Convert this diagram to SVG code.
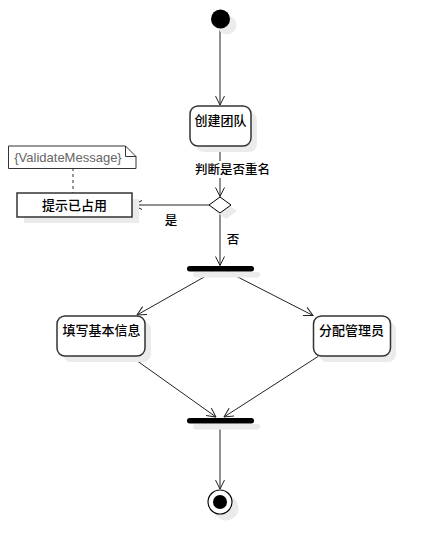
<svg xmlns="http://www.w3.org/2000/svg" width="428" height="555" viewBox="0 0 428 555">
<style>
.sh{fill:#ebebeb;stroke:none}
.act{fill:#fff;stroke:#333;stroke-width:1.5}
.cj{font-family:"Noto Sans CJK SC","Noto Sans",sans-serif;fill:#000;font-weight:500}
.box{font-size:13px;text-anchor:middle}
.lbl{font-size:12.5px}
.ln{fill:none;stroke:#222;stroke-width:1}
.bar{fill:#000}
</style>
<defs>
<marker id="arr" viewBox="0 0 10 10" refX="9.5" refY="5" markerWidth="10" markerHeight="10" markerUnits="userSpaceOnUse" orient="auto">
<path d="M0.5,0.5 L9.5,5 L0.5,9.5" fill="none" stroke="#222" stroke-width="1"/>
</marker>
</defs>
<rect width="428" height="555" fill="#fff"/>
<g id="connectors">
<line class="ln" x1="220" y1="29" x2="220" y2="105" marker-end="url(#arr)"/>
<line class="ln" x1="220" y1="146" x2="220" y2="196.5" marker-end="url(#arr)"/>
<rect x="194" y="161" width="76" height="17" fill="#fff"/>
<text class="cj lbl" x="232.5" y="173.5" text-anchor="middle">判断是否重名</text>
<line class="ln" x1="209" y1="205" x2="133" y2="205" marker-end="url(#arr)"/>
<text class="cj lbl" x="171" y="224.5" text-anchor="middle">是</text>
<line class="ln" x1="220" y1="213" x2="220" y2="265.5" marker-end="url(#arr)"/>
<text class="cj lbl" x="233" y="243.5" text-anchor="middle">否</text>
<line class="ln" x1="213" y1="272" x2="137" y2="315" marker-end="url(#arr)"/>
<line class="ln" x1="228" y1="272" x2="313" y2="315.5" marker-end="url(#arr)"/>
<line class="ln" x1="131" y1="356.5" x2="216" y2="417" marker-end="url(#arr)"/>
<line class="ln" x1="318" y1="356.5" x2="224" y2="417" marker-end="url(#arr)"/>
<line class="ln" x1="220" y1="424" x2="220" y2="489" marker-end="url(#arr)"/>
<line x1="73" y1="168" x2="73" y2="193" stroke="#333" stroke-width="1" stroke-dasharray="3,3"/>
</g>
<g id="start">
<circle class="sh" cx="227" cy="25" r="9.5"/>
<circle cx="220.5" cy="19" r="9.5" fill="#000"/>
</g>
<g id="create">
<rect class="sh" x="196" y="112" width="61" height="40" rx="8"/>
<rect class="act" x="190" y="106" width="61" height="40" rx="8"/>
<text class="cj box" x="220.5" y="124.5">创建团队</text>
</g>
<g id="decision">
<polygon class="sh" points="226,203 237,211 226,219 215,211"/>
<polygon points="220,197 231,205 220,213 209,205" fill="#fff" stroke="#000" stroke-width="1"/>
</g>
<g id="note">
<path d="M8.5,146 H125.5 L136,156.5 V168.5 H8.5 Z" fill="#fff" stroke="#333" stroke-width="1"/>
<path d="M125.5,146 V156.5 H136" fill="none" stroke="#333" stroke-width="1"/>
<text x="68" y="161.5" font-family="Liberation Sans, Arial, sans-serif" font-size="13" fill="#666" text-anchor="middle">{ValidateMessage}</text>
</g>
<g id="occupied">
<rect class="sh" x="24" y="199" width="115" height="24"/>
<rect x="17" y="193" width="115" height="24" fill="#fff" stroke="#333" stroke-width="1.5"/>
<text class="cj box" x="74.5" y="209.5">提示已占用</text>
</g>
<g id="fork">
<rect class="sh" x="193" y="272" width="67" height="5.5" rx="2.75"/>
<rect class="bar" x="187" y="266" width="67" height="5.5" rx="2.75"/>
</g>
<g id="fill-info">
<rect class="sh" x="63" y="322" width="88" height="40" rx="8"/>
<rect class="act" x="57" y="316" width="88" height="40" rx="8"/>
<text class="cj box" x="101.5" y="334.5">填写基本信息</text>
</g>
<g id="assign-admin">
<rect class="sh" x="319" y="322" width="77" height="40" rx="8"/>
<rect class="act" x="313.5" y="316" width="77" height="40" rx="8"/>
<text class="cj box" x="351.5" y="334.5">分配管理员</text>
</g>
<g id="join">
<rect class="sh" x="193" y="424" width="67" height="5.5" rx="2.75"/>
<rect class="bar" x="187" y="418" width="67" height="5.5" rx="2.75"/>
</g>
<g id="end">
<circle class="sh" cx="226" cy="508" r="12.5"/>
<circle cx="220" cy="502" r="12" fill="#fff" stroke="#000" stroke-width="1.2"/>
<circle cx="220" cy="502" r="7" fill="#000"/>
</g>
</svg>
